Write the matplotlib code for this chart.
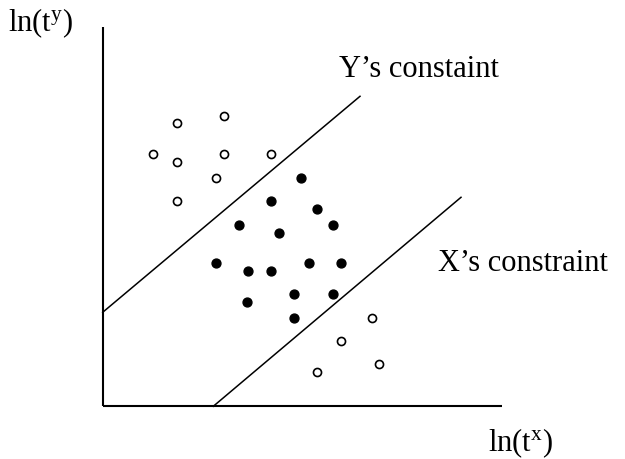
import matplotlib
matplotlib.use("Agg")
import matplotlib.pyplot as plt

plt.rcParams['font.family'] = ['Liberation Serif', 'DejaVu Serif']
plt.rcParams['mathtext.fontset'] = 'custom'
plt.rcParams['mathtext.rm'] = 'Liberation Serif'
plt.rcParams['mathtext.it'] = 'Liberation Serif:italic'

# data (units: ln(t^x), ln(t^y), arbitrary scale)
open_x = [74.6, 121.3, 50.6, 74.6, 121.3, 168.0, 113.3, 74.6, 269.6, 238.0, 276.6, 214.0]
open_y = [283.0, 290.6, 252.0, 244.3, 252.0, 252.0, 228.3, 205.3, 88.3, 65.0, 42.0, 34.0]

filled_x = [198.6, 168.0, 214.0, 136.6, 230.0, 176.0, 113.3, 145.3, 168.3, 206.6, 238.0,
            191.3, 230.0, 144.6, 191.3]
filled_y = [228.3, 205.3, 197.3, 181.6, 181.6, 173.6, 143.0, 135.0, 135.0, 143.0, 143.0,
            112.0, 112.0, 104.3, 88.6]

y_constraint_x = [0.0, 257.3]
y_constraint_y = [94.0, 310.0]
x_constraint_x = [110.6, 358.3]
x_constraint_y = [0.0, 209.0]

axis_x_end = 399.0
axis_y_end = 379.0

fig = plt.figure(figsize=(6.25, 4.6), dpi=100)
ax = fig.add_axes([0, 0, 1, 1])
ax.set_xlim(-102.7, 522.3)
ax.set_ylim(-52.7, 407.3)
ax.axis('off')

# axes lines
ax.plot([0, 0], [0, axis_y_end], color='black', lw=1.5, solid_capstyle='butt')
ax.plot([0, axis_x_end], [0, 0], color='black', lw=1.5, solid_capstyle='butt')

# constraint lines
ax.plot(y_constraint_x, y_constraint_y, color='black', lw=1.1)
ax.plot(x_constraint_x, x_constraint_y, color='black', lw=1.1)

# points
ax.plot(open_x, open_y, 'o', ms=5.8, mfc='white', mec='black', mew=1.2, ls='none')
ax.plot(filled_x, filled_y, 'o', ms=6.4, mfc='black', mec='black', ls='none')

fs = 22
ax.text(236.6, 330.0, "Y\u2019s constaint", fontsize=fs, va='baseline', ha='left')
ax.text(335.0, 136.6, "X\u2019s constraint", fontsize=fs, va='baseline', ha='left')
ax.text(-94.7, 375.6, r"ln(t$^{\mathrm{y}}$)", fontsize=fs, va='baseline', ha='left')
ax.text(385.3, -44.4, r"ln(t$^{\mathrm{x}}$)", fontsize=fs, va='baseline', ha='left')

fig.savefig("out.png", dpi=100)
